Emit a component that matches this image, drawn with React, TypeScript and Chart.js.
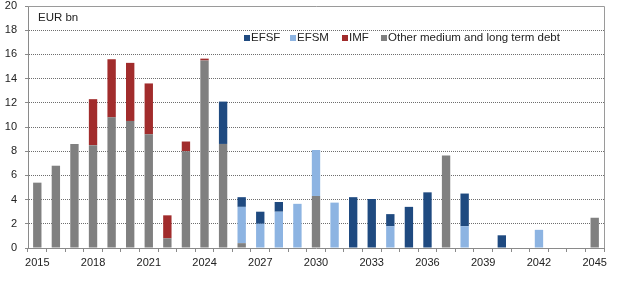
import React, { useEffect, useRef } from "react";
import { Chart, registerables } from "chart.js";

Chart.register(...registerables);

const years = [
  "2015", "2016", "2017", "2018", "2019", "2020", "2021", "2022", "2023", "2024",
  "2025", "2026", "2027", "2028", "2029", "2030", "2031", "2032", "2033", "2034",
  "2035", "2036", "2037", "2038", "2039", "2040", "2041", "2042", "2043", "2044",
  "2045",
];

// Redemptions by lender, EUR bn
const efsf = [0, 0, 0, 0, 0, 0, 0, 0, 0, 0, 3.5, 0.8, 1.0, 0.8, 0, 0, 0, 4.2, 4.05, 1.0, 3.4, 4.6, 0, 2.7, 0, 1.05, 0, 0, 0, 0, 0];
const efsm = [0, 0, 0, 0, 0, 0, 0, 0, 0, 0, 0, 3.0, 2.0, 3.0, 3.65, 3.8, 3.75, 0, 0, 1.8, 0, 0, 0, 1.8, 0, 0, 0, 1.5, 0, 0, 0];
const imf = [0, 0, 0, 3.8, 4.8, 4.8, 4.2, 1.9, 0.8, 0.15, 0, 0, 0, 0, 0, 0, 0, 0, 0, 0, 0, 0, 0, 0, 0, 0, 0, 0, 0, 0, 0];
const other = [5.4, 6.8, 8.6, 8.5, 10.8, 10.5, 9.4, 0.8, 8.0, 15.5, 8.6, 0.4, 0, 0, 0, 4.3, 0, 0, 0, 0, 0, 0, 7.65, 0, 0, 0, 0, 0, 0, 0, 2.5];

const yTicks = [0, 2, 4, 6, 8, 10, 12, 14, 16, 18, 20];

const COLORS = {
  efsf: "#1F4A80",
  efsm: "#8DB4E2",
  imf: "#A12C2C",
  other: "#808080",
};

const FONT = "'Liberation Sans', Arial, sans-serif";

// Legend entries with their left offsets along the legend row
const legendItems = [
  { label: "EFSF", color: COLORS.efsf, x: 244 },
  { label: "EFSM", color: COLORS.efsm, x: 290 },
  { label: "IMF", color: COLORS.imf, x: 342 },
  { label: "Other medium and long term debt", color: COLORS.other, x: 381 },
];

const nz = (arr: number[]) => arr.map((v) => (v === 0 ? null : v));

// Frame, unit caption and in-plot legend
const overlayPlugin = {
  id: "overlay",
  afterDraw(chart: any) {
    const { ctx, chartArea } = chart;
    const { left, top, right, bottom } = chartArea;
    ctx.save();
    ctx.strokeStyle = "#9a9a9a";
    ctx.lineWidth = 1;
    ctx.beginPath();
    ctx.moveTo(left, Math.round(top) + 0.5);
    ctx.lineTo(Math.round(right) + 0.5, Math.round(top) + 0.5);
    ctx.lineTo(Math.round(right) + 0.5, bottom);
    ctx.stroke();

    ctx.fillStyle = "#222";
    ctx.textBaseline = "middle";
    ctx.textAlign = "left";
    ctx.font = `11.5px ${FONT}`;
    ctx.fillText("EUR bn", left + 10, top + 12);

    const y = 38;
    for (const item of legendItems) {
      ctx.fillStyle = item.color;
      ctx.fillRect(item.x, y - 3, 6, 6);
      ctx.fillStyle = "#222";
      ctx.fillText(item.label, item.x + 7, y);
    }
    ctx.restore();
  },
};

export default function App() {
  const canvasRef = useRef<HTMLCanvasElement | null>(null);

  useEffect(() => {
    if (!canvasRef.current) return;
    const ds = (label: string, data: number[], color: string) => ({
      label,
      data: nz(data),
      backgroundColor: color,
      borderWidth: 0,
      barPercentage: 0.45,
      categoryPercentage: 1,
      stack: "s",
    });
    const chart = new Chart(canvasRef.current, {
      type: "bar",
      data: {
        labels: years,
        datasets: [
          ds("Other medium and long term debt", other, COLORS.other),
          ds("EFSM", efsm, COLORS.efsm),
          ds("EFSF", efsf, COLORS.efsf),
          ds("IMF", imf, COLORS.imf),
        ],
      },
      options: {
        animation: false,
        responsive: false,
        layout: { padding: { top: 6, right: 16, left: 0, bottom: 0 } },
        plugins: {
          legend: { display: false },
          tooltip: { enabled: false },
        },
        scales: {
          x: {
            stacked: true,
            afterFit: (scale: any) => {
              scale.height = 33;
              scale.paddingLeft = 0;
              scale.paddingRight = 0;
            },
            grid: {
              offset: true,
              drawOnChartArea: false,
              drawTicks: true,
              tickLength: 4,
              tickColor: "#8a8a8a",
            },
            border: { color: "#8a8a8a", width: 1 },
            ticks: {
              autoSkip: false,
              maxRotation: 0,
              padding: 4,
              color: "#222",
              font: { size: 11, family: FONT },
              callback: (_v: any, i: number) => (i % 3 === 0 ? years[i] : ""),
            },
          },
          y: {
            stacked: true,
            min: 0,
            max: 20,
            afterFit: (scale: any) => {
              scale.width = 28;
              scale.paddingTop = 0;
              scale.paddingBottom = 0;
            },
            afterBuildTicks: (scale: any) => {
              scale.ticks = yTicks.map((v) => ({ value: v }));
            },
            grid: {
              color: (c: any) =>
                c.tick && (c.tick.value === 0 || c.tick.value === 20) ? "rgba(0,0,0,0)" : "#6e6e6e",
              tickColor: "#8a8a8a",
              tickLength: 3,
              lineWidth: 1,
            },
            border: { color: "#8a8a8a", width: 1, dash: [1, 1] },
            ticks: {
              padding: 8,
              color: "#222",
              font: { size: 11, family: FONT },
            },
          },
        },
      },
      plugins: [overlayPlugin],
    });
    return () => chart.destroy();
  }, []);

  return (
    <div style={{ position: "absolute", left: 0, top: 0, width: 620, height: 281, background: "#fff" }}>
      <canvas ref={canvasRef} width={620} height={281} style={{ display: "block" }} />
    </div>
  );
}
